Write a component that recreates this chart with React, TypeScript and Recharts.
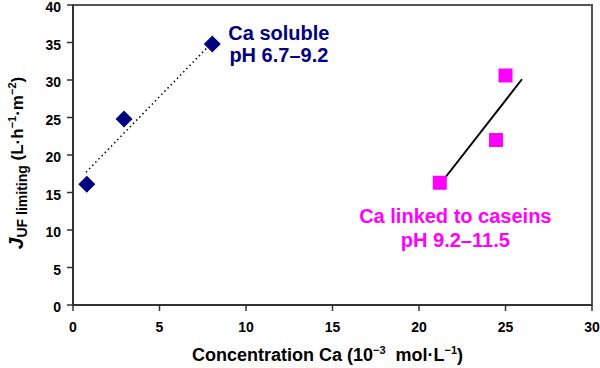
import {
  ScatterChart,
  Scatter,
  XAxis,
  YAxis,
  ReferenceArea,
  ReferenceDot,
  Label,
} from "recharts";

const xTicks = [0, 5, 10, 15, 20, 25, 30];
const yTicks = [0, 5, 10, 15, 20, 25, 30, 35, 40];

// Ca soluble, pH 6.7–9.2
const solubleCa = [0.8, 2.95, 8.05];
const solubleFlux = [16.1, 24.8, 34.8];
const solubleTrendCa = [0.75, 7.75];
const solubleTrendFlux = [17.7, 34.3];

// Ca linked to caseins, pH 9.2–11.5
const caseinCa = [21.2, 24.45, 25.0];
const caseinFlux = [16.3, 22.0, 30.6];
const caseinTrendCa = [21.25, 25.95];
const caseinTrendFlux = [16.2, 30.1];

const NAVY = "#000080";
const MAGENTA = "#FF00FF";
const FONT = "Arial, 'Liberation Sans', sans-serif";

const toPoints = (xs: number[], ys: number[]) => xs.map((x, i) => ({ x, y: ys[i] }));

const solubleData = toPoints(solubleCa, solubleFlux);
const caseinData = toPoints(caseinCa, caseinFlux);
const solubleTrend = toPoints(solubleTrendCa, solubleTrendFlux);
const caseinTrend = toPoints(caseinTrendCa, caseinTrendFlux);

// eslint-disable-next-line @typescript-eslint/no-explicit-any
const Diamond = ({ cx, cy }: any) => {
  const r = 8.5;
  return (
    <polygon
      points={`${cx},${cy - r} ${cx + r},${cy} ${cx},${cy + r} ${cx - r},${cy}`}
      fill={NAVY}
    />
  );
};

// eslint-disable-next-line @typescript-eslint/no-explicit-any
const Square = ({ cx, cy }: any) => (
  <rect x={cx - 7} y={cy - 7} width={14} height={14} fill={MAGENTA} />
);

const NoDot = () => <g />;

// eslint-disable-next-line @typescript-eslint/no-explicit-any
const annotation = (lines: string[], color: string, gap: number) => ({ cx, cy }: any) => (
  <text x={cx} y={cy} textAnchor="middle" fill={color} fontFamily={FONT} fontWeight="bold" fontSize={20}>
    {lines.map((l, i) => (
      <tspan key={i} x={cx} dy={i === 0 ? 0 : gap}>
        {l}
      </tspan>
    ))}
  </text>
);

// eslint-disable-next-line @typescript-eslint/no-explicit-any
const YTick = ({ x, y, payload }: any) => (
  <text x={x} y={y + 7} textAnchor="end" fontFamily={FONT} fontWeight="bold" fontSize={14} fill="#000">
    {payload.value}
  </text>
);

// eslint-disable-next-line @typescript-eslint/no-explicit-any
const XTitle = ({ viewBox }: any) => {
  const x = viewBox.x + viewBox.width / 2 - 5;
  const y = viewBox.y + 56;
  return (
    <text x={x} y={y} textAnchor="middle" fontFamily={FONT} fontWeight="bold" fontSize={18} fill="#000" style={{ whiteSpace: "pre" }}>
      Concentration Ca (10
      <tspan dy={-7} fontSize={11}>−3</tspan>
      <tspan dy={7}>  mol·L</tspan>
      <tspan dy={-7} fontSize={11}>−1</tspan>
      <tspan dy={7}>)</tspan>
    </text>
  );
};

// eslint-disable-next-line @typescript-eslint/no-explicit-any
const YTitle = ({ viewBox }: any) => {
  const x = viewBox.x + 23;
  const y = viewBox.y + viewBox.height / 2 + 8;
  return (
    <text
      x={x}
      y={y}
      transform={`rotate(-90, ${x}, ${y})`}
      textAnchor="middle"
      fontFamily={FONT}
      fontWeight="bold"
      fontSize={17}
      fill="#000"
      style={{ whiteSpace: "pre" }}
    >
      <tspan fontStyle="italic" fontSize={21}>J</tspan>
      <tspan dy={4} fontSize={14}>UF limiting</tspan>
      <tspan dy={-4}> (L·h</tspan>
      <tspan dy={-7} fontSize={11}>−1</tspan>
      <tspan dy={7}>·m</tspan>
      <tspan dy={-7} fontSize={11}>−2</tspan>
      <tspan dy={7}>)</tspan>
    </text>
  );
};

const tickStyle = { fontSize: 14, fontWeight: "bold", fill: "#000", fontFamily: FONT };

export default function App() {
  return (
    <div style={{ position: "absolute", left: 0, top: 0, width: 600, height: 368, background: "#fff" }}>
      <ScatterChart width={600} height={368} margin={{ top: 5, right: 8, left: 0, bottom: 0 }}>
        <XAxis
          type="number"
          dataKey="x"
          domain={[0, 30]}
          ticks={xTicks}
          interval={0}
          height={63}
          tick={tickStyle}
          tickSize={6}
          tickMargin={11}
          axisLine={{ stroke: "#333", strokeWidth: 2 }}
          tickLine={{ stroke: "#333", strokeWidth: 1.5 }}
        >
          <Label content={<XTitle />} />
        </XAxis>
        <YAxis
          type="number"
          dataKey="y"
          domain={[0, 40]}
          ticks={yTicks}
          interval={0}
          width={73}
          tick={<YTick />}
          tickSize={6}
          tickMargin={6}
          axisLine={{ stroke: "#333", strokeWidth: 2 }}
          tickLine={{ stroke: "#333", strokeWidth: 1.5 }}
        >
          <Label content={<YTitle />} />
        </YAxis>
        <ReferenceArea x1={0} x2={30} y1={0} y2={40} fill="none" stroke="#555" strokeWidth={2} />
        <Scatter
          data={solubleTrend}
          line={{ stroke: "#000", strokeWidth: 1.5, strokeDasharray: "1.5 3" }}
          shape={NoDot}
          legendType="none"
          isAnimationActive={false}
        />
        <Scatter
          data={caseinTrend}
          line={{ stroke: "#000", strokeWidth: 2 }}
          shape={NoDot}
          legendType="none"
          isAnimationActive={false}
        />
        <Scatter data={solubleData} shape={<Diamond />} isAnimationActive={false} />
        <Scatter data={caseinData} shape={<Square />} isAnimationActive={false} />
        <ReferenceDot x={11.9} y={35.3} r={0} shape={annotation(["Ca soluble", "pH 6.7–9.2"], NAVY, 22)} />
        <ReferenceDot x={22.1} y={11.0} r={0} shape={annotation(["Ca linked to caseins", "pH 9.2–11.5"], MAGENTA, 24)} />
      </ScatterChart>
    </div>
  );
}
